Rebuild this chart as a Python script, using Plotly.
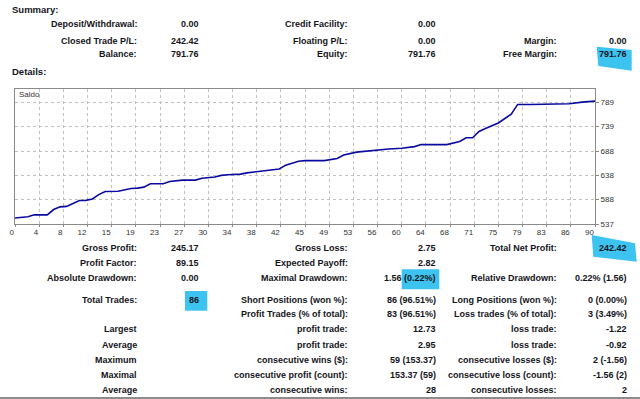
import plotly.graph_objects as go

# ---------------- data ----------------
trade_no = [0, 1, 2, 3, 5, 6, 7, 8, 9, 10, 11, 12, 13, 14, 16, 17, 18, 19, 20, 21,
            23, 24, 26, 28, 29, 31, 32, 33, 35, 36, 38, 39, 41, 42, 44, 45, 48, 50,
            51, 53, 55, 56, 58, 60, 61, 62, 63, 67, 69, 70, 71, 72, 73, 75, 77, 78,
            80, 82, 86, 88, 90]
balance = [549.34, 550.5, 552.0, 556.0, 556.0, 567.0, 572.5, 573.5, 580.0, 585.8,
           586.0, 589.0, 598.0, 604.5, 605.0, 608.0, 610.5, 611.5, 613.5, 620.5,
           620.5, 625.0, 628.0, 628.0, 632.0, 634.5, 637.8, 639.0, 640.5, 643.0,
           646.0, 647.5, 651.0, 659.0, 667.0, 668.4, 668.4, 673.0, 680.0, 686.0,
           689.0, 691.0, 692.5, 694.0, 696.0, 697.5, 701.7, 701.7, 708.0, 716.0,
           716.0, 729.0, 735.0, 746.6, 765.0, 785.0, 785.0, 786.0, 786.5, 789.7,
           791.76]
x_tick_labels = ["0", "4", "8", "12", "15", "19", "23", "27", "30", "34", "38", "42",
                 "45", "49", "53", "56", "60", "64", "68", "71", "75", "79", "83",
                 "86", "90"]
y_tick_labels = ["537", "588", "638", "688", "739", "789"]

summary_rows = [
    ["Deposit/Withdrawal:", "0.00", "Credit Facility:", "0.00", "", ""],
    ["Closed Trade P/L:", "242.42", "Floating P/L:", "0.00", "Margin:", "0.00"],
    ["Balance:", "791.76", "Equity:", "791.76", "Free Margin:", "791.76"],
]
details_rows = [
    ["Gross Profit:", "245.17", "Gross Loss:", "2.75", "Total Net Profit:", "242.42"],
    ["Profit Factor:", "89.15", "Expected Payoff:", "2.82", "", ""],
    ["Absolute Drawdown:", "0.00", "Maximal Drawdown:", "1.56 (0.22%)", "Relative Drawdown:", "0.22% (1.56)"],
    ["Total Trades:", "86", "Short Positions (won %):", "86 (96.51%)", "Long Positions (won %):", "0 (0.00%)"],
    ["", "", "Profit Trades (% of total):", "83 (96.51%)", "Loss trades (% of total):", "3 (3.49%)"],
    ["Largest", "", "profit trade:", "12.73", "loss trade:", "-1.22"],
    ["Average", "", "profit trade:", "2.95", "loss trade:", "-0.92"],
    ["Maximum", "", "consecutive wins ($):", "59 (153.37)", "consecutive losses ($):", "2 (-1.56)"],
    ["Maximal", "", "consecutive profit (count):", "153.37 (59)", "consecutive loss (count):", "-1.56 (2)"],
    ["Average", "", "consecutive wins:", "28", "consecutive losses:", "2"],
]

# ---------------- layout helpers ----------------
W, H = 640, 399
L, R, T, B = 15, 45, 89, 175
PW, PH = W - L - R, H - T - B


def px(x):
    return (x - L) / PW


def py(y):
    return (H - B - y) / PH


FONT = "Liberation Sans, Arial, sans-serif"
TXT = "#141420"
HL = "#3cc3f0"

fig = go.Figure()
fig.add_trace(go.Scatter(x=trade_no, y=balance, mode="lines",
                         line=dict(color="#0a0aa0", width=1.6),
                         hoverinfo="skip", showlegend=False))

x_tick_pos = [i * 90 / (len(x_tick_labels) - 1) for i in range(len(x_tick_labels))]
y_tick_pos = [float(v) for v in y_tick_labels]

fig.update_layout(
    width=W, height=H,
    margin=dict(l=L, r=R, t=T, b=B, autoexpand=False),
    paper_bgcolor="white", plot_bgcolor="white",
    showlegend=False,
    xaxis=dict(range=[0, 90], tickvals=x_tick_pos, ticktext=x_tick_labels,
               showgrid=True, gridcolor="#c0c0c0", griddash="dot", gridwidth=1,
               showline=True, linecolor="#8a8a8a", linewidth=1, mirror=True,
               ticks="outside", ticklen=2, tickcolor="#8a8a8a",
               ticklabelposition="outside left", ticklabelstandoff=0,
               tickfont=dict(family=FONT, size=8, color="#333"),
               zeroline=False, fixedrange=True),
    yaxis=dict(range=[537, 817], tickvals=y_tick_pos, ticktext=y_tick_labels,
               side="right",
               showgrid=True, gridcolor="#c0c0c0", griddash="dot", gridwidth=1,
               showline=True, linecolor="#8a8a8a", linewidth=1, mirror=True,
               ticks="outside", ticklen=3, tickcolor="#8a8a8a",
               tickfont=dict(family=FONT, size=8, color="#333"),
               zeroline=False, fixedrange=True),
)

shapes = []
# highlight marks
shapes.append(dict(type="path", xref="paper", yref="paper",
                   path="M {} {} L {} {} L {} {} L {} {} Z".format(
                       px(596.7), py(46.7), px(631.7), py(50), px(631.7), py(70.7), px(598.3), py(66)),
                   fillcolor=HL, line=dict(width=0), layer="below"))
shapes.append(dict(type="rect", xref="paper", yref="paper",
                   x0=px(185), x1=px(207.3), y0=py(291), y1=py(310.7),
                   fillcolor=HL, line=dict(width=0), layer="below"))
shapes.append(dict(type="rect", xref="paper", yref="paper",
                   x0=px(401.7), x1=px(439.3), y0=py(269.3), y1=py(289.3),
                   fillcolor=HL, line=dict(width=0), layer="below"))
shapes.append(dict(type="path", xref="paper", yref="paper",
                   path="M {} {} L {} {} L {} {} L {} {} Z".format(
                       px(591.7), py(235), px(635), py(243.3), px(636.7), py(261.7), px(593.3), py(256.7)),
                   fillcolor=HL, line=dict(width=0), layer="below"))
# bottom rule
shapes.append(dict(type="line", xref="paper", yref="paper",
                   x0=px(0), x1=px(640), y0=py(398), y1=py(398),
                   line=dict(color="#8c8c8c", width=2)))
fig.update_layout(shapes=shapes)

ann = []


def text(x, y, s, anchor="right", size=9, bold=True, color=TXT):
    if not s:
        return
    ann.append(dict(x=px(x), y=py(y), xref="paper", yref="paper", text=("<b>%s</b>" % s) if bold else s,
                    showarrow=False, xanchor=anchor, yanchor="middle",
                    font=dict(family=FONT, size=size, color=color), borderpad=0))


text(11, 10, "Summary:", anchor="left", size=9.5)
text(11, 72, "Details:", anchor="left", size=9.5)
text(18, 94.5, "Saldo", anchor="left", size=8, bold=False, color="#333")

col_right = [138.3, 199.5, 349, 436.7, 557.7, 628.3]
summary_y = [24.3, 40.7, 54]
for row, yy in zip(summary_rows, summary_y):
    for s, xr in zip(row, col_right):
        text(xr, yy, s)

details_y = [248.3, 263.3, 278.3, 300, 314.3, 329.3, 344.5, 359.7, 374.7, 390]
for row, yy in zip(details_rows, details_y):
    for s, xr in zip(row, col_right):
        text(xr, yy, s)

fig.update_layout(annotations=ann)
fig.write_html("out.html", config={"displayModeBar": False},
               post_script="document.body.style.margin='0';document.body.style.padding='0';"
                           "document.body.style.overflow='hidden';")
